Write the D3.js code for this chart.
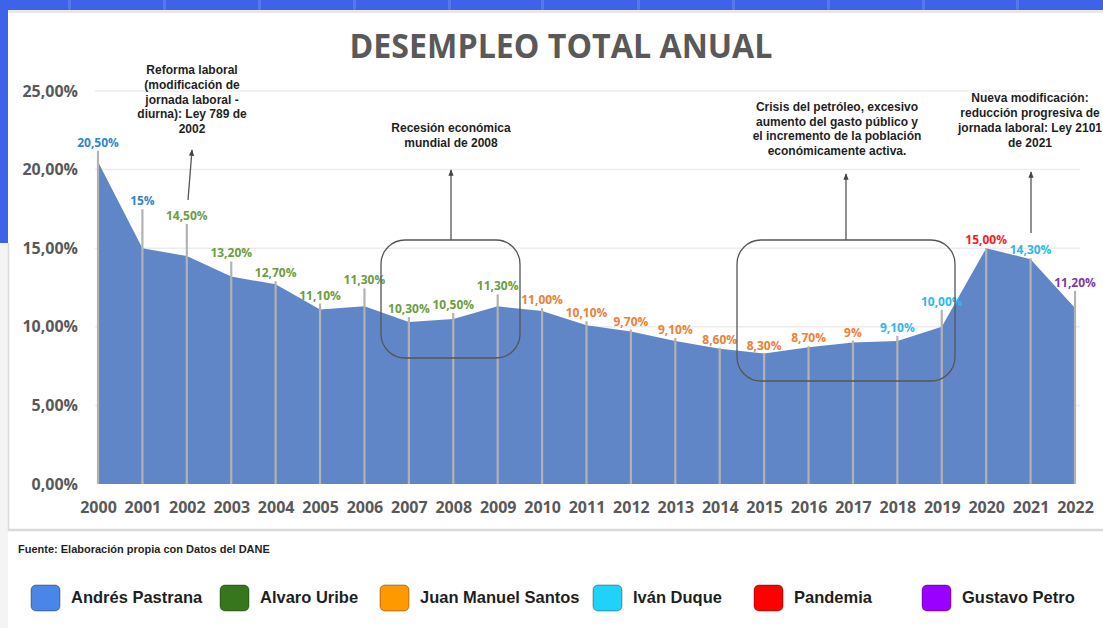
<!DOCTYPE html>
<html lang="es">
<head>
<meta charset="utf-8">
<title>Desempleo total anual</title>
<script src="https://d3js.org/d3.v7.min.js"></script>
<style>
  body { margin: 0; background: #fff; }
  svg { display: block; }
  .num { font-family: "Open Sans", sans-serif; font-weight: 700; }
  .ann { font-family: "Liberation Sans", Arial, sans-serif; font-weight: 700; fill: #1f1f1f; }
</style>
</head>
<body>
<script>
// data
var years = ["2000","2001","2002","2003","2004","2005","2006","2007","2008","2009","2010",
             "2011","2012","2013","2014","2015","2016","2017","2018","2019","2020","2021","2022"];
var rates = [20.5, 15, 14.5, 13.2, 12.7, 11.1, 11.3, 10.3, 10.5, 11.3, 11.0,
             10.1, 9.7, 9.1, 8.6, 8.3, 8.7, 9.0, 9.1, 10.0, 15.0, 14.3, 11.2];
var rateLabels = ["20,50%","15%","14,50%","13,20%","12,70%","11,10%","11,30%","10,30%","10,50%","11,30%","11,00%",
                  "10,10%","9,70%","9,10%","8,60%","8,30%","8,70%","9%","9,10%","10,00%","15,00%","14,30%","11,20%"];
var period = ["Pastrana","Pastrana","Uribe","Uribe","Uribe","Uribe","Uribe","Uribe","Uribe","Uribe",
              "Santos","Santos","Santos","Santos","Santos","Santos","Santos","Santos",
              "Duque","Duque","Pandemia","Duque","Petro"];
var yTicks = [0, 5, 10, 15, 20, 25];

var legendNames = ["Andrés Pastrana","Alvaro Uribe","Juan Manuel Santos","Iván Duque","Pandemia","Gustavo Petro"];
var legendKeys  = ["Pastrana","Uribe","Santos","Duque","Pandemia","Petro"];

// styling
var labelColor = {Pastrana:"#2f86cc", Uribe:"#6a9e3f", Santos:"#ee8036", Duque:"#2cb9ea", Pandemia:"#ff1a1a", Petro:"#7b3aa6"};
var swatchColor = {Pastrana:"#4a86e8", Uribe:"#38761d", Santos:"#ff9900", Duque:"#1fd2f7", Pandemia:"#ff0000", Petro:"#9900ff"};
var labelGap = [19,47,40,23,11,14,26,13,14,20,11,12,10,11,9,8,9,10,13,25,8,9,25]; // px above point
var legendX = [31, 220, 380, 593, 754, 922];

var W = 1103, H = 628;
var svg = d3.select("body").append("svg").attr("width", W).attr("height", H);

// frame (screenshot background)
svg.append("rect").attr("x",0).attr("y",243).attr("width",8).attr("height",H-243).attr("fill","#f4f4f4");
svg.append("rect").attr("x",0).attr("y",0).attr("width",W).attr("height",10).attr("fill","#3e63e9");
svg.append("rect").attr("x",0).attr("y",0).attr("width",8).attr("height",243).attr("fill","#3e63e9");
[68,163,258,353,448,541,637,732,827,922,1016].forEach(function(bx){
  svg.append("rect").attr("x",bx).attr("y",0).attr("width",3).attr("height",10).attr("fill","#5677ee");
});
svg.append("rect").attr("x",8).attr("y",10).attr("width",W-8).attr("height",3).attr("fill","#e9e9e9");
svg.append("line").attr("x1",8.5).attr("y1",243).attr("x2",8.5).attr("y2",531).attr("stroke","#dcdcdc").attr("stroke-width",1.5);
svg.append("line").attr("x1",8).attr("y1",530).attr("x2",W).attr("y2",530).attr("stroke","#dadada").attr("stroke-width",2.5);

// scales
var x = d3.scalePoint().domain(years).range([98, 1075]);
var y = d3.scaleLinear().domain([0, 25]).range([484, 91]);

var loc = d3.formatLocale({decimal: ",", thousands: ".", grouping: [3], currency: ["", ""]});
var pct = loc.format(".2f");

// gridlines
svg.append("g").selectAll("line").data(yTicks.slice(1)).enter().append("line")
  .attr("x1", 95).attr("x2", 1080)
  .attr("y1", function(d){ return y(d); }).attr("y2", function(d){ return y(d); })
  .attr("stroke", "#ececec").attr("stroke-width", 1.5);

// title
svg.append("text").attr("class","num")
  .attr("x", 561).attr("y", 58).attr("text-anchor","middle")
  .attr("font-size", 34).attr("fill", "#595959")
  .attr("textLength", 423).attr("lengthAdjust", "spacingAndGlyphs")
  .text("DESEMPLEO TOTAL ANUAL");

// area
var pts = years.map(function(yr, i){ return {year: yr, v: rates[i], i: i}; });
var area = d3.area()
  .x(function(d){ return x(d.year); })
  .y0(y(0))
  .y1(function(d){ return y(d.v); })
  .curve(d3.curveLinear);
svg.append("path").datum(pts).attr("d", area).attr("fill", "#6186c8");

// leader lines
svg.append("g").selectAll("line").data(pts).enter().append("line")
  .attr("x1", function(d){ return x(d.year); })
  .attr("x2", function(d){ return x(d.year); })
  .attr("y1", function(d){ return y(d.v) - labelGap[d.i] + 8; })
  .attr("y2", y(0))
  .attr("stroke", "#b2b2b2").attr("stroke-width", 2.2);

// value labels
svg.append("g").selectAll("text").data(pts).enter().append("text")
  .attr("class", "num")
  .attr("x", function(d){ return x(d.year); })
  .attr("y", function(d){ return y(d.v) - labelGap[d.i] + 4; })
  .attr("text-anchor", "middle")
  .attr("font-size", 12)
  .attr("fill", function(d){ return labelColor[period[d.i]]; })
  .text(function(d){ return rateLabels[d.i]; });

// axes
var yAxis = svg.append("g").attr("transform", "translate(86,0)")
  .call(d3.axisLeft(y).tickValues(yTicks).tickSize(0).tickPadding(8)
        .tickFormat(function(d){ return pct(d) + "%"; }));
yAxis.select(".domain").remove();
yAxis.selectAll("text").attr("class","num").attr("font-size", 16).attr("fill", "#595959");

var xAxis = svg.append("g").attr("transform", "translate(0," + y(0) + ")")
  .call(d3.axisBottom(x).tickSize(0).tickPadding(18));
xAxis.select(".domain").remove();
xAxis.selectAll("text").attr("class","num").attr("font-size", 16).attr("fill", "#595959");

// annotations
var defs = svg.append("defs");
defs.append("marker").attr("id","arr").attr("viewBox","0 0 10 10").attr("refX",9).attr("refY",5)
  .attr("markerWidth",5).attr("markerHeight",5).attr("orient","auto")
  .append("path").attr("d","M0,1L10,5L0,9Z").attr("fill","#444");

function note(lines, cx, y0, lh) {
  var t = svg.append("text").attr("class","ann").attr("font-size", 12).attr("text-anchor","middle");
  lines.forEach(function(s, k){
    t.append("tspan").attr("x", cx).attr("y", y0 + k*lh).text(s);
  });
}
function arrow(x1, y1, x2, y2) {
  svg.append("line").attr("x1",x1).attr("y1",y1).attr("x2",x2).attr("y2",y2)
    .attr("stroke","#555").attr("stroke-width",1.3).attr("marker-end","url(#arr)");
}

note(["Reforma laboral","(modificación de","jornada laboral -","diurna): Ley 789 de","2002"], 192, 74, 14.8);
arrow(188, 200, 192, 150);

note(["Recesión económica","mundial de 2008"], 451, 132, 15);
arrow(451, 240, 451, 170);
svg.append("rect").attr("x",381).attr("y",240).attr("width",139).attr("height",118).attr("rx",24)
  .attr("fill","none").attr("stroke","#555").attr("stroke-width",1.3);

note(["Crisis del petróleo, excesivo","aumento del gasto público y","el incremento de la población","económicamente activa."], 837, 111, 14.7);
arrow(846, 240, 846, 174);
svg.append("rect").attr("x",737).attr("y",240).attr("width",218).attr("height",141).attr("rx",24)
  .attr("fill","none").attr("stroke","#555").attr("stroke-width",1.3);

note(["Nueva modificación:","reducción progresiva de","jornada laboral: Ley 2101","de 2021"], 1030, 102, 14.9);
arrow(1031, 233, 1031, 172);

// source
svg.append("text").attr("class","ann").attr("x", 18).attr("y", 553).attr("font-size", 11)
  .text("Fuente: Elaboración propia con Datos del DANE");

// legend
var leg = svg.append("g").selectAll("g").data(legendKeys).enter().append("g")
  .attr("transform", function(d, i){ return "translate(" + legendX[i] + ",585)"; });
leg.append("rect").attr("width", 29).attr("height", 26).attr("rx", 5)
  .attr("fill", function(d){ return swatchColor[d]; })
  .attr("stroke", "rgba(0,0,0,0.35)").attr("stroke-width", 1);
leg.append("text").attr("class","ann").attr("x", 40).attr("y", 18).attr("font-size", 16.5)
  .text(function(d, i){ return legendNames[i]; });
</script>
</body>
</html>
